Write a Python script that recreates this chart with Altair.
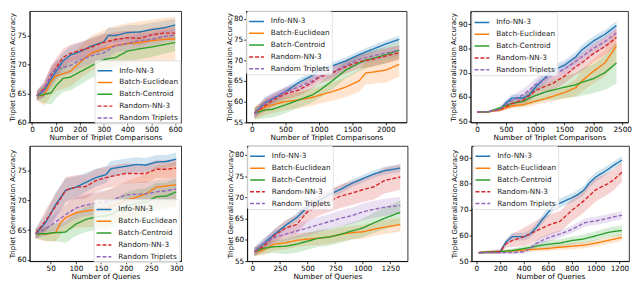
import altair as alt
import pandas as pd

SERIES = ["Info-NN-3", "Batch-Euclidean", "Batch-Centroid", "Random-NN-3", "Random Triplets"]
COLORS = ["#1f77b4", "#ff7f0e", "#2ca02c", "#d62728", "#9467bd"]
DASHES = [[1, 0], [1, 0], [1, 0], [4, 2], [4, 2]]

# ---------------- Panel 1 (top-left) ----------------
p1_x = [20, 50, 80, 100, 130, 160, 200, 250, 300, 320, 350, 400, 450, 500, 550, 600]
p1_mean = {
    "Info-NN-3":       [64.6, 65.5, 67.5, 68.8, 70.6, 71.6, 72.2, 73.2, 73.9, 75.0, 75.0, 75.5, 75.6, 76.0, 76.3, 76.8],
    "Batch-Euclidean": [64.6, 64.7, 67.1, 68.0, 68.4, 68.8, 70.3, 72.0, 72.7, 72.9, 73.3, 73.6, 73.8, 74.1, 74.3, 74.4],
    "Batch-Centroid":  [64.6, 64.8, 65.1, 66.3, 67.6, 67.8, 68.7, 69.8, 70.8, 71.0, 71.2, 72.3, 72.7, 73.0, 73.4, 73.8],
    "Random-NN-3":     [64.6, 65.8, 68.1, 69.4, 71.2, 71.9, 72.4, 73.0, 73.8, 74.0, 74.3, 74.6, 74.5, 75.1, 75.4, 75.4],
    "Random Triplets": [64.6, 65.6, 68.4, 69.2, 69.5, 69.8, 70.7, 71.5, 72.0, 72.5, 73.3, 73.6, 74.1, 74.3, 74.8, 75.1],
}
p1_sd = {
    "Info-NN-3":       [0.8, 1.2, 1.6, 1.6, 1.5, 1.5, 1.5, 1.5, 1.5, 1.4, 1.3, 1.3, 1.2, 1.2, 1.2, 1.1],
    "Batch-Euclidean": [0.8, 1.8, 2.5, 2.6, 2.6, 2.6, 2.8, 3.0, 3.2, 3.3, 3.4, 3.5, 3.6, 3.6, 3.7, 3.8],
    "Batch-Centroid":  [0.8, 1.5, 2.0, 2.2, 2.3, 2.3, 2.2, 2.1, 2.0, 2.0, 1.9, 1.8, 1.8, 1.7, 1.6, 1.5],
    "Random-NN-3":     [0.8, 1.3, 1.6, 1.6, 1.5, 1.5, 1.5, 1.4, 1.4, 1.3, 1.3, 1.2, 1.2, 1.2, 1.1, 1.1],
    "Random Triplets": [0.8, 1.2, 1.5, 1.5, 1.4, 1.4, 1.4, 1.3, 1.3, 1.3, 1.2, 1.2, 1.2, 1.1, 1.1, 1.0],
}

# ---------------- Panel 2 (top-middle) ----------------
p2_x = [40, 200, 300, 500, 700, 900, 1000, 1200, 1400, 1600, 1700, 1800, 2000, 2200]
p2_mean = {
    "Info-NN-3":       [57.2, 59.8, 60.6, 62.4, 64.6, 66.3, 67.6, 68.6, 69.8, 71.3, 72.0, 72.6, 73.9, 75.0],
    "Batch-Euclidean": [57.2, 58.7, 59.2, 60.0, 60.4, 61.0, 61.5, 62.4, 63.5, 65.0, 66.9, 67.1, 67.6, 69.0],
    "Batch-Centroid":  [57.2, 58.0, 58.1, 59.2, 60.4, 61.6, 62.6, 65.0, 67.6, 69.3, 70.0, 70.4, 71.3, 72.4],
    "Random-NN-3":     [57.2, 59.1, 60.2, 61.9, 62.8, 64.6, 65.8, 66.9, 68.4, 69.6, 69.9, 70.2, 71.0, 71.8],
    "Random Triplets": [57.0, 59.8, 60.8, 62.4, 63.5, 65.0, 66.1, 67.2, 68.7, 70.2, 70.6, 71.0, 71.7, 72.4],
}
p2_sd = {
    "Info-NN-3":       [1.0, 1.3, 1.2, 1.0, 0.9, 0.9, 0.9, 0.9, 0.9, 0.9, 0.9, 0.9, 0.9, 0.9],
    "Batch-Euclidean": [1.5, 2.0, 2.0, 2.0, 2.0, 2.0, 2.0, 2.2, 2.4, 2.6, 2.8, 2.8, 3.0, 3.0],
    "Batch-Centroid":  [1.5, 2.0, 2.0, 2.0, 1.8, 1.8, 1.8, 2.0, 2.0, 2.0, 2.0, 2.0, 2.0, 2.0],
    "Random-NN-3":     [1.2, 1.5, 1.5, 1.4, 1.4, 1.5, 1.5, 1.6, 1.6, 1.6, 1.7, 1.7, 1.8, 1.8],
    "Random Triplets": [1.0, 1.3, 1.3, 1.2, 1.2, 1.2, 1.2, 1.3, 1.3, 1.3, 1.3, 1.3, 1.3, 1.3],
}

# ---------------- Panel 3 (top-right) ----------------
p3_x = [0, 200, 400, 500, 600, 800, 900, 1000, 1200, 1300, 1500, 1700, 1800, 2000, 2200, 2400]
p3_mean = {
    "Info-NN-3":       [53.8, 53.9, 55.0, 57.5, 59.5, 59.6, 60.8, 63.8, 68.6, 71.0, 73.0, 76.5, 79.3, 83.0, 85.8, 89.5],
    "Batch-Euclidean": [53.8, 53.9, 54.6, 55.5, 56.2, 56.8, 57.5, 58.2, 59.5, 60.2, 61.8, 63.8, 66.5, 70.5, 74.0, 81.0],
    "Batch-Centroid":  [53.8, 53.9, 55.5, 56.5, 57.3, 58.2, 59.5, 60.5, 62.2, 62.8, 64.0, 65.0, 66.0, 67.5, 70.0, 74.0],
    "Random-NN-3":     [53.8, 53.9, 54.8, 56.0, 57.2, 58.8, 60.5, 62.5, 64.7, 65.5, 68.5, 72.5, 74.0, 77.8, 80.8, 84.5],
    "Random Triplets": [53.8, 53.9, 55.0, 57.0, 58.5, 61.0, 62.8, 65.0, 68.0, 69.0, 71.5, 74.5, 76.5, 80.0, 82.8, 86.5],
}
p3_sd = {
    "Info-NN-3":       [0.3, 0.3, 0.8, 1.2, 1.5, 1.5, 1.8, 2.0, 2.2, 2.2, 2.0, 2.0, 2.0, 2.0, 1.8, 1.8],
    "Batch-Euclidean": [0.3, 0.3, 0.6, 0.8, 1.0, 1.2, 1.4, 1.5, 1.8, 2.0, 2.5, 3.5, 4.5, 5.0, 5.5, 7.0],
    "Batch-Centroid":  [0.3, 0.3, 0.8, 1.2, 1.5, 2.0, 2.5, 3.0, 3.5, 4.0, 4.5, 5.0, 5.5, 6.0, 7.0, 8.5],
    "Random-NN-3":     [0.3, 0.3, 0.8, 1.2, 1.5, 2.0, 2.2, 2.5, 3.0, 3.0, 3.0, 3.5, 3.5, 3.5, 3.5, 3.5],
    "Random Triplets": [0.3, 0.3, 0.8, 1.5, 2.0, 2.5, 2.5, 2.5, 2.5, 2.5, 2.5, 2.5, 2.5, 2.5, 2.5, 2.5],
}

# ---------------- Panel 4 (bottom-left) ----------------
p4_x = [20, 40, 60, 70, 80, 100, 120, 140, 160, 170, 200, 220, 240, 260, 280, 300]
p4_mean = {
    "Info-NN-3":       [64.4, 66.3, 69.3, 70.5, 71.7, 72.2, 73.0, 73.8, 74.3, 75.3, 75.7, 76.0, 75.9, 76.4, 76.5, 76.9],
    "Batch-Euclidean": [64.4, 64.3, 64.6, 66.3, 67.1, 67.9, 68.2, 68.4, 68.6, 69.0, 70.0, 70.5, 71.1, 72.2, 72.4, 72.6],
    "Batch-Centroid":  [64.4, 64.4, 64.6, 64.6, 64.7, 66.0, 66.8, 67.2, 67.4, 67.6, 69.0, 69.5, 69.7, 70.6, 70.7, 71.4],
    "Random-NN-3":     [64.4, 66.6, 69.0, 70.3, 71.7, 72.2, 72.3, 73.3, 73.8, 74.0, 74.5, 74.5, 74.5, 75.2, 75.2, 75.4],
    "Random Triplets": [64.4, 65.2, 66.4, 67.0, 67.6, 68.7, 69.2, 69.5, 69.8, 70.0, 70.9, 71.0, 71.1, 71.4, 71.6, 71.9],
}
p4_sd = {
    "Info-NN-3":       [0.8, 1.5, 2.0, 2.0, 2.0, 1.8, 1.6, 1.5, 1.4, 1.3, 1.3, 1.2, 1.2, 1.2, 1.1, 1.1],
    "Batch-Euclidean": [0.8, 1.2, 1.5, 2.0, 2.3, 2.5, 2.7, 2.8, 3.0, 3.0, 3.2, 3.3, 3.4, 3.5, 3.6, 3.8],
    "Batch-Centroid":  [0.8, 1.2, 1.5, 1.6, 1.8, 2.0, 2.1, 2.2, 2.3, 2.3, 2.3, 2.3, 2.3, 2.3, 2.3, 2.3],
    "Random-NN-3":     [0.8, 1.8, 2.2, 2.2, 2.2, 2.0, 2.0, 1.9, 1.8, 1.8, 1.7, 1.6, 1.6, 1.5, 1.5, 1.5],
    "Random Triplets": [0.8, 1.2, 1.5, 1.6, 1.7, 1.8, 1.8, 1.9, 1.9, 1.9, 2.0, 2.0, 2.0, 2.0, 2.0, 2.0],
}

# ---------------- Panel 5 (bottom-middle) ----------------
p5_x = [20, 100, 200, 300, 400, 500, 600, 700, 800, 900, 1000, 1100, 1200, 1340]
p5_mean = {
    "Info-NN-3":       [57.2, 59.1, 61.3, 63.4, 65.2, 67.7, 69.2, 70.7, 71.9, 73.3, 74.4, 75.5, 76.3, 76.9],
    "Batch-Euclidean": [57.2, 57.6, 59.0, 59.3, 59.9, 60.2, 60.4, 60.7, 61.3, 61.7, 61.9, 62.5, 63.0, 63.6],
    "Batch-Centroid":  [57.2, 58.0, 58.4, 58.5, 59.0, 59.7, 60.4, 60.7, 61.3, 62.1, 62.8, 64.0, 65.1, 66.5],
    "Random-NN-3":     [57.2, 58.4, 61.0, 62.8, 63.6, 66.6, 68.1, 69.2, 70.3, 71.0, 71.8, 72.5, 74.0, 74.8],
    "Random Triplets": [57.2, 59.1, 60.6, 61.3, 62.1, 62.8, 63.6, 64.3, 65.1, 65.7, 66.6, 67.2, 67.7, 68.1],
}
p5_sd = {
    "Info-NN-3":       [1.0, 1.2, 1.2, 1.0, 1.0, 1.0, 1.0, 0.9, 0.9, 0.9, 0.9, 0.9, 0.9, 0.9],
    "Batch-Euclidean": [1.0, 1.2, 1.5, 1.5, 1.6, 1.6, 1.6, 1.6, 1.6, 1.6, 1.6, 1.6, 1.6, 1.6],
    "Batch-Centroid":  [1.0, 1.2, 1.5, 1.8, 2.0, 2.0, 2.0, 2.0, 2.0, 2.0, 2.2, 2.4, 2.6, 2.8],
    "Random-NN-3":     [1.0, 1.2, 1.5, 1.8, 2.2, 2.2, 2.4, 2.6, 2.8, 2.8, 2.9, 3.0, 3.0, 3.0],
    "Random Triplets": [1.0, 1.2, 1.5, 1.6, 1.7, 1.8, 1.8, 1.8, 1.9, 1.9, 2.0, 2.0, 2.0, 2.0],
}

# ---------------- Panel 6 (bottom-right) ----------------
p6_x = [20, 200, 250, 300, 400, 450, 500, 550, 600, 650, 700, 800, 850, 900, 950, 1000, 1100, 1150, 1220]
p6_mean = {
    "Info-NN-3":       [53.3, 53.7, 57.5, 59.5, 59.5, 60.5, 62.9, 66.0, 68.8, 71.5, 72.5, 74.6, 75.8, 77.5, 80.5, 82.6, 85.5, 87.2, 89.2],
    "Batch-Euclidean": [53.3, 53.7, 53.8, 54.0, 54.3, 54.5, 54.6, 54.8, 54.9, 55.2, 55.4, 55.8, 56.0, 56.2, 56.6, 57.0, 58.0, 58.5, 59.2],
    "Batch-Centroid":  [53.3, 53.7, 53.9, 54.1, 54.9, 55.3, 55.8, 56.2, 56.5, 56.8, 57.0, 58.0, 58.3, 58.6, 59.2, 59.8, 61.1, 61.5, 61.9],
    "Random-NN-3":     [53.3, 53.7, 56.8, 58.0, 59.5, 60.5, 61.7, 62.8, 63.9, 64.7, 65.4, 69.7, 71.5, 73.4, 75.5, 77.7, 80.0, 81.5, 84.5],
    "Random Triplets": [53.3, 53.3, 53.3, 53.3, 53.7, 54.9, 56.8, 58.0, 59.0, 59.8, 60.5, 62.3, 63.5, 64.8, 65.3, 65.6, 66.6, 67.2, 67.8],
}
p6_sd = {
    "Info-NN-3":       [0.3, 0.8, 1.2, 1.5, 1.5, 1.5, 1.6, 1.8, 1.8, 1.8, 1.8, 1.8, 1.8, 1.8, 1.8, 1.8, 1.6, 1.5, 1.5],
    "Batch-Euclidean": [0.3, 0.5, 0.6, 0.7, 0.8, 0.9, 0.9, 1.0, 1.0, 1.1, 1.1, 1.2, 1.2, 1.2, 1.3, 1.3, 1.3, 1.4, 1.4],
    "Batch-Centroid":  [0.3, 0.6, 0.7, 0.8, 1.0, 1.1, 1.2, 1.3, 1.4, 1.5, 1.5, 1.6, 1.6, 1.7, 1.7, 1.8, 1.8, 1.9, 2.0],
    "Random-NN-3":     [0.3, 0.8, 1.5, 2.5, 3.5, 3.8, 4.0, 4.0, 4.0, 4.0, 4.0, 4.2, 4.5, 4.5, 4.5, 4.5, 4.2, 4.0, 3.8],
    "Random Triplets": [0.3, 0.5, 0.5, 0.6, 0.8, 1.0, 1.2, 1.4, 1.5, 1.5, 1.5, 1.5, 1.5, 1.6, 1.6, 1.6, 1.6, 1.6, 1.6],
}

FONT = "DejaVu Sans"
FS = 7.4
YTITLE = "Triplet Generalization Accuracy"


def panel(xs, means, sds, xdom, xticks, ydom, yticks, xtitle, w, h, lx, ly):
    rows = []
    for s, col in zip(SERIES, COLORS):
        for x, m, d in zip(xs, means[s], sds[s]):
            rows.append({"x": x, "series": s, "band": col, "y": m, "lo": m - d, "hi": m + d})
    df = pd.DataFrame(rows)
    xaxis = alt.Axis(values=xticks, title=xtitle, format="d", labelOverlap=False)
    yaxis = alt.Axis(values=yticks, title=YTITLE, format="d", labelOverlap=False,
                     titleFontSize=7.1)
    xenc = alt.X("x:Q", scale=alt.Scale(domain=xdom, nice=False, zero=False), axis=xaxis)
    yscale = alt.Scale(domain=ydom, nice=False, zero=False)
    cscale = alt.Scale(domain=SERIES, range=COLORS)
    dscale = alt.Scale(domain=SERIES, range=DASHES)
    leg = alt.Legend(title=None, orient="none", legendX=lx, legendY=ly,
                     symbolType="stroke", symbolSize=225, symbolStrokeWidth=1.5,
                     labelFontSize=FS, labelFont=FONT, labelColor="#222",
                     fillColor="rgba(255,255,255,0.8)", strokeColor="#e0e0e0",
                     cornerRadius=2, padding=2, rowPadding=-4, labelOffset=6)
    base = alt.Chart(df)
    band = base.mark_area(opacity=0.2, clip=True).encode(
        x=xenc,
        y=alt.Y("lo:Q", scale=yscale, axis=yaxis),
        y2="hi:Q",
        fill=alt.Fill("band:N", scale=None),
        detail="series:N",
    )
    line = base.mark_line(strokeWidth=1.4, clip=True).encode(
        x=xenc,
        y=alt.Y("y:Q", scale=yscale, axis=yaxis),
        color=alt.Color("series:N", scale=cscale, legend=leg, sort=SERIES),
        strokeDash=alt.StrokeDash("series:N", scale=dscale, legend=leg, sort=SERIES),
    )
    return alt.layer(band, line).properties(width=w, height=h)


W = [154, 163, 160]
H = [113, 117]
TX = "Number of Triplet Comparisons"
QX = "Number of Queries"

c1 = panel(p1_x, p1_mean, p1_sd, [-10, 625], [0, 100, 200, 300, 400, 500, 600],
           [60, 79.2], [60, 65, 70, 75], TX, W[0], H[0], 66, 50)
c2 = panel(p2_x, p2_mean, p2_sd, [-85, 2310], [0, 500, 1000, 1500, 2000],
           [55, 81.8], [55, 60, 65, 70, 75, 80], TX, W[1], H[0], 0, 0)
c3 = panel(p3_x, p3_mean, p3_sd, [-110, 2600], [0, 500, 1000, 1500, 2000, 2500],
           [49.5, 95.4], [50, 60, 70, 80, 90], TX, W[2], H[0], 1, 1)
c4 = panel(p4_x, p4_mean, p4_sd, [8, 310], [50, 100, 150, 200, 250, 300],
           [59.8, 79.1], [60, 65, 70, 75], QX, W[0], H[1], 65, 54)
c5 = panel(p5_x, p5_mean, p5_sd, [-46, 1406], [0, 250, 500, 750, 1000, 1250],
           [55, 82.1], [55, 60, 65, 70, 75, 80], QX, W[1], H[1], 0, 0)
c6 = panel(p6_x, p6_mean, p6_sd, [-40, 1280], [0, 200, 400, 600, 800, 1000, 1200],
           [50, 94.7], [50, 60, 70, 80, 90], QX, W[2], H[1], 1, 0)

IND = dict(color="independent", strokeDash="independent")
row1 = alt.hconcat(c1, c2, c3, spacing=42).resolve_scale(**IND).resolve_legend(**IND)
row2 = alt.hconcat(c4, c5, c6, spacing=42).resolve_scale(**IND).resolve_legend(**IND)

chart = alt.vconcat(row1, row2, spacing=3).properties(padding=0).configure(
    font=FONT
).configure_axis(
    labelFont=FONT, titleFont=FONT, labelFontSize=FS, titleFontSize=FS,
    labelColor="#000", titleColor="#000", titleFontWeight="normal",
    grid=False, tickSize=2.5, labelPadding=1, titlePadding=1,
    domainColor="#000", tickColor="#000", domainWidth=0.8, tickWidth=0.8,
).configure_view(stroke="#000", strokeWidth=0.8).configure_legend(
    labelFont=FONT
)

chart.save("out.html", embed_options={"renderer": "svg", "actions": False})
